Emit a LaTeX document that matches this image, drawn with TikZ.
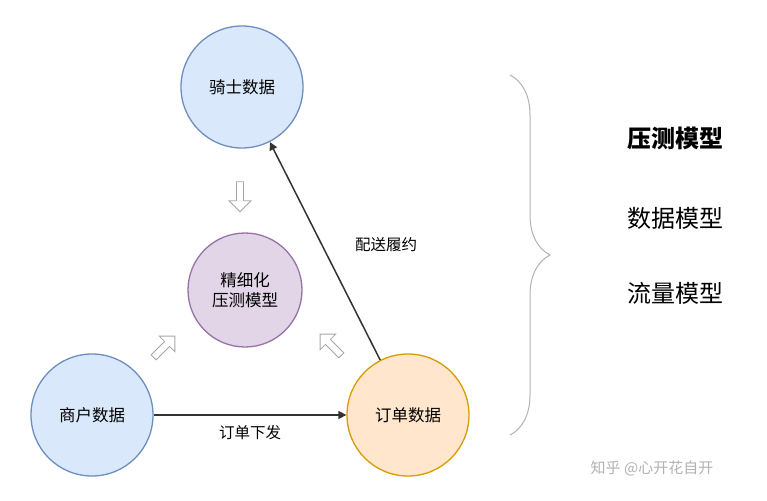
\documentclass[tikz,border=0pt]{standalone}
\usepackage{fontspec}
\setmainfont{Noto Sans CJK SC}
\usetikzlibrary{shapes.arrows,decorations.pathreplacing,arrows.meta}
\begin{document}
\begin{tikzpicture}[x=1pt,y=-1pt,
 circ/.style={circle,draw,line width=1.3pt,minimum size=122pt,inner sep=0pt,font=\fontsize{16.5}{20}\selectfont,align=center},
 hol/.style={single arrow,draw=gray!70,line width=0.8pt,fill=white,minimum height=30pt,minimum width=22pt,single arrow head extend=5pt,inner sep=2pt},
 lab/.style={font=\fontsize{15.5}{18}\selectfont},
 big/.style={font=\fontsize{24}{28}\selectfont}]
\useasboundingbox (0,0) rectangle (767,500);
\definecolor{bf}{HTML}{DAE8FC}\definecolor{bd}{HTML}{6C8EBF}
\definecolor{pf}{HTML}{E1D5E7}\definecolor{pd}{HTML}{9673A6}
\definecolor{of}{HTML}{FFE6CC}\definecolor{od}{HTML}{D79B00}
\node[circ,fill=bf,draw=bd] (q) at (242,87) {骑士数据};
\node[circ,fill=pf,draw=pd,minimum size=114pt] (j) at (245,290) {精细化\\压测模型};
\node[circ,fill=bf,draw=bd] (s) at (92,415) {商户数据};
\node[circ,fill=of,draw=od] (d) at (408,415) {订单数据};
\draw[-{Triangle[length=8pt,width=8pt]},line width=1.5pt,gray!40!black] (s) -- node[lab,below=6pt,black]{订单下发} (d);
\draw[-{Triangle[length=8pt,width=8pt]},line width=1.5pt,gray!40!black] (d) -- (q);
\node[lab] (pl) at (386,245) {配送履约};
\node[hol,rotate=-90] (a1) at (240,195) {};
\node[hol,rotate=45] (a2) at (163,348) {};
\node[hol,rotate=135] (a3) at (332,346) {};
\draw[gray!60,line width=1pt,decorate,decoration={brace,amplitude=40pt}] (510,75) -- (510,435);
\node[font=\bfseries\fontsize{24}{28}\selectfont] (m1) at (675,138) {压测模型};
\node[big] (m2) at (675,218) {数据模型};
\node[big] (m3) at (675,293) {流量模型};
\node[font=\fontsize{15}{18}\selectfont,text=gray!60] (w) at (652,468) {知乎 @心开花自开};
\end{tikzpicture}
\end{document}
